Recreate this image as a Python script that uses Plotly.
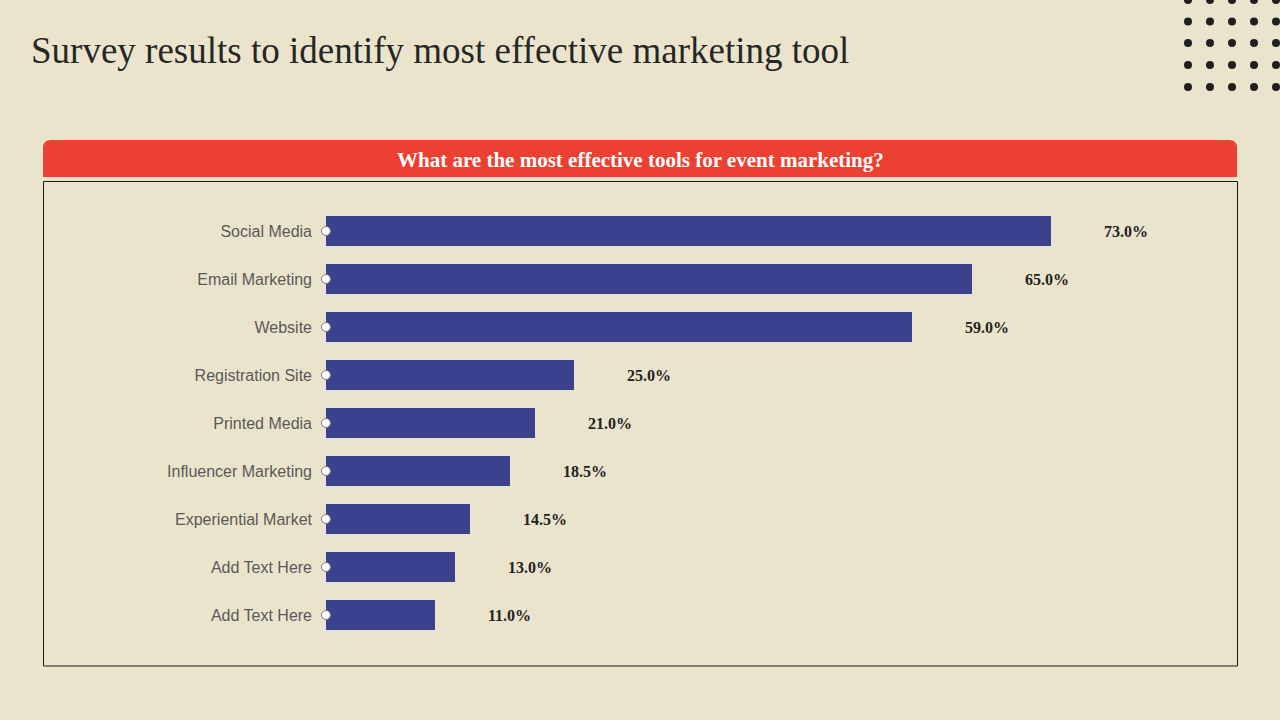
import plotly.graph_objects as go

categories = ["Social Media", "Email Marketing", "Website", "Registration Site",
              "Printed Media", "Influencer Marketing", "Experiential Market",
              "Add Text Here", "Add Text Here"]
values = [73.0, 65.0, 59.0, 25.0, 21.0, 18.5, 14.5, 13.0, 11.0]
value_labels = [f"{v:.1f}%" for v in values]
positions = list(range(len(categories)))

BG = "#ebe4cc"
BAR = "#3b418c"
RED = "#ec4033"

W, H = 1280, 720
L, R, T, B = 326, 1220, 207, 639


def px(x):
    return (x - L) / (R - L)


def py(y):
    return (B - y) / (B - T)


fig = go.Figure()
fig.add_trace(go.Bar(
    x=values, y=positions, orientation="h",
    marker=dict(color=BAR, line=dict(width=0)),
    width=0.625, hoverinfo="skip",
))
fig.add_trace(go.Scatter(
    x=[0] * len(categories), y=positions, mode="markers",
    marker=dict(size=9, color="white", line=dict(color="#7f7f7f", width=1)),
    cliponaxis=False, hoverinfo="skip",
))

for p, v, t in zip(positions, values, value_labels):
    fig.add_annotation(x=v, y=p, text=f"<b>{t}</b>", showarrow=False, xanchor="left",
                       xshift=51, yshift=0,
                       font=dict(family="Liberation Serif", size=16, color="#222222"))

# frame
fig.add_shape(type="rect", xref="paper", yref="paper",
              x0=px(43.5), x1=px(1237.5), y0=py(666), y1=py(181.5),
              line=dict(color="#1a1a1a", width=1), fillcolor="rgba(0,0,0,0)", layer="below")

# red header with rounded top corners
x0, x1, y0, y1, r = 43, 1237, 140, 177, 8
path = (f"M {px(x0)},{py(y1)} L {px(x0)},{py(y0 + r)} "
        f"Q {px(x0)},{py(y0)} {px(x0 + r)},{py(y0)} "
        f"L {px(x1 - r)},{py(y0)} Q {px(x1)},{py(y0)} {px(x1)},{py(y0 + r)} "
        f"L {px(x1)},{py(y1)} Z")
fig.add_shape(type="path", xref="paper", yref="paper", path=path,
              fillcolor=RED, line=dict(width=0))
fig.add_annotation(xref="paper", yref="paper", x=px(640), y=py(160),
                   text="<b>What are the most effective tools for event marketing?</b>",
                   showarrow=False, xanchor="center", yanchor="middle",
                   font=dict(family="Liberation Serif", size=21, color="white"))

# title
fig.add_annotation(xref="paper", yref="paper", x=px(29), y=py(50),
                   text="Survey results to identify most effective marketing tool",
                   showarrow=False, xanchor="left", yanchor="middle",
                   font=dict(family="Liberation Serif", size=37, color="#262626"))

# decorative dots
for rx in [1188, 1210, 1232, 1254, 1276]:
    for ry in [0, 21.5, 43, 65, 87]:
        fig.add_shape(type="circle", xref="paper", yref="paper",
                      x0=px(rx - 4), x1=px(rx + 4), y0=py(ry + 4), y1=py(ry - 4),
                      fillcolor="#1f1f1f", line=dict(width=0))

fig.update_layout(
    width=W, height=H,
    margin=dict(l=L, r=W - R, t=T, b=H - B, pad=0),
    paper_bgcolor=BG, plot_bgcolor=BG,
    showlegend=False, bargap=0,
    xaxis=dict(range=[0, 90], visible=False, fixedrange=True),
    yaxis=dict(range=[len(categories) - 0.5, -0.5], showgrid=False, zeroline=False,
               showline=False, ticks="", ticklabelstandoff=13,
               tickmode="array", tickvals=positions, ticktext=categories,
               tickfont=dict(family="Liberation Sans", size=16, color="#595959"),
               fixedrange=True),
)
fig.write_html("out.html", config={"displayModeBar": False},
               post_script="document.body.style.margin='0';document.body.style.background='%s';" % BG)
